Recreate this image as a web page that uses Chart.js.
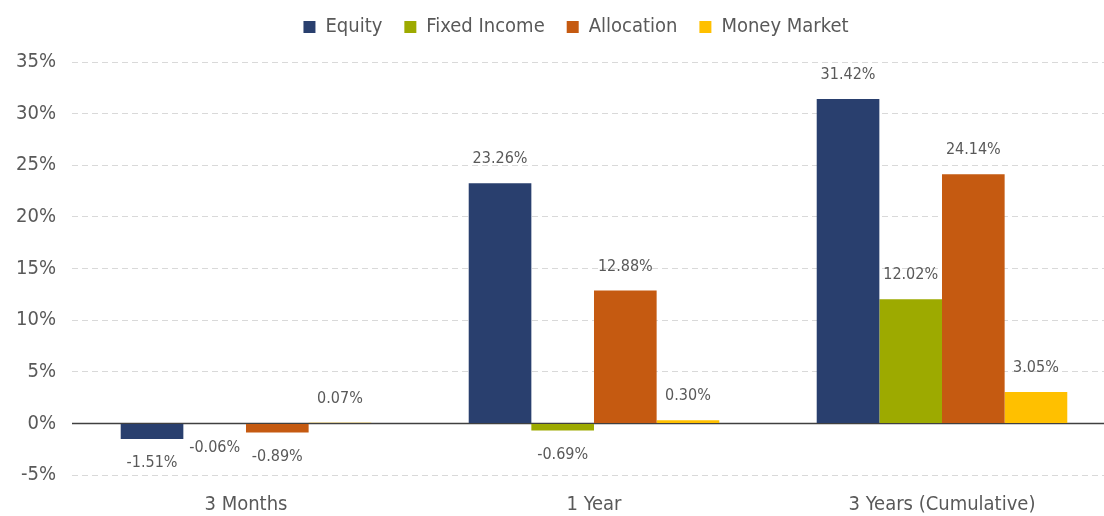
<!DOCTYPE html>
<html>
<head>
<meta charset="utf-8">
<script src="https://cdn.jsdelivr.net/npm/chart.js@4/dist/chart.umd.min.js"></script>
<style>
  html, body { margin: 0; padding: 0; background: #fff; overflow: hidden; }
  #wrap { width: 1116px; height: 516px; }
</style>
</head>
<body>
<div id="wrap"><canvas id="grafico"></canvas></div>
<script>
const periodos = ["3 Months", "1 Year", "3 Years (Cumulative)"];
const equity = [-1.51, 23.26, 31.42];
const fixedIncome = [-0.06, -0.69, 12.02];
const allocation = [-0.89, 12.88, 24.14];
const moneyMarket = [0.07, 0.30, 3.05];
const yTicks = [-5, 0, 5, 10, 15, 20, 25, 30, 35];

const fonte = "'Liberation Sans Narrow', 'DejaVu Sans Condensed', 'Roboto', sans-serif";
const cinza = "#595959";

// rotulos em cima (ou embaixo) de cada barra
const rotulos = {
  id: "rotulos",
  afterDatasetsDraw(chart) {
    const ctx = chart.ctx;
    ctx.save();
    ctx.font = "16px " + fonte;
    ctx.fillStyle = cinza;
    ctx.textAlign = "center";
    ctx.textBaseline = "middle";
    chart.data.datasets.forEach((ds, i) => {
      const meta = chart.getDatasetMeta(i);
      meta.data.forEach((bar, j) => {
        const v = ds.data[j];
        const y = v >= 0 ? bar.y - 24 : bar.y + 24;
        ctx.fillText(v.toFixed(2) + "%", bar.x, y);
      });
    });
    ctx.restore();
  }
};

// linha do zero cheia
const linhaZero = {
  id: "linhaZero",
  beforeDatasetsDraw(chart) {
    const ctx = chart.ctx;
    const area = chart.chartArea;
    const y0 = chart.scales.y.getPixelForValue(0);
    ctx.save();
    ctx.strokeStyle = "#404040";
    ctx.lineWidth = 1.5;
    ctx.beginPath();
    ctx.moveTo(area.left, y0);
    ctx.lineTo(area.right, y0);
    ctx.stroke();
    ctx.restore();
  }
};

// espaco extra embaixo da legenda, e legenda centrada na area do grafico
const margemLegenda = {
  id: "margemLegenda",
  beforeInit(chart) {
    const fitOriginal = chart.legend.fit;
    chart.legend.fit = function () {
      fitOriginal.bind(chart.legend)();
      this.height += 15;
    };
  },
  afterLayout(chart) {
    chart.legend.left += 18;
    chart.legend.right += 18;
  }
};

const ctx = document.getElementById("grafico");
new Chart(ctx, {
  type: "bar",
  data: {
    labels: periodos,
    datasets: [
      { label: "Equity", data: equity, backgroundColor: "#293F6E" },
      { label: "Fixed Income", data: fixedIncome, backgroundColor: "#9DAA00" },
      { label: "Allocation", data: allocation, backgroundColor: "#C55A11" },
      { label: "Money Market", data: moneyMarket, backgroundColor: "#FFC000" }
    ]
  },
  options: {
    responsive: true,
    maintainAspectRatio: false,
    animation: false,
    layout: { padding: { top: -5, right: 0, bottom: -11, left: 0 } },
    datasets: { bar: { categoryPercentage: 0.72, barPercentage: 1.0 } },
    plugins: {
      legend: {
        position: "top",
        labels: {
          boxWidth: 12,
          boxHeight: 12,
          padding: 22,
          color: cinza,
          font: { family: fonte, size: 20 }
        }
      },
      tooltip: { enabled: false }
    },
    scales: {
      x: {
        grid: { display: false },
        border: { display: false },
        ticks: { color: cinza, font: { family: fonte, size: 20 }, padding: 10 }
      },
      y: {
        min: -5,
        max: 35,
        afterBuildTicks: (axis) => { axis.ticks = yTicks.map(v => ({ value: v })); },
        border: { display: false, dash: [6, 4] },
        grid: {
          color: (c) => c.tick && c.tick.value === 0 ? "rgba(0,0,0,0)" : "#D9D9D9",
          lineWidth: 1,
          drawTicks: false
        },
        ticks: {
          color: cinza,
          padding: 16,
          font: { family: fonte, size: 20 },
          callback: (v) => v + "%"
        }
      }
    }
  },
  plugins: [margemLegenda, linhaZero, rotulos]
});
</script>
</body>
</html>
